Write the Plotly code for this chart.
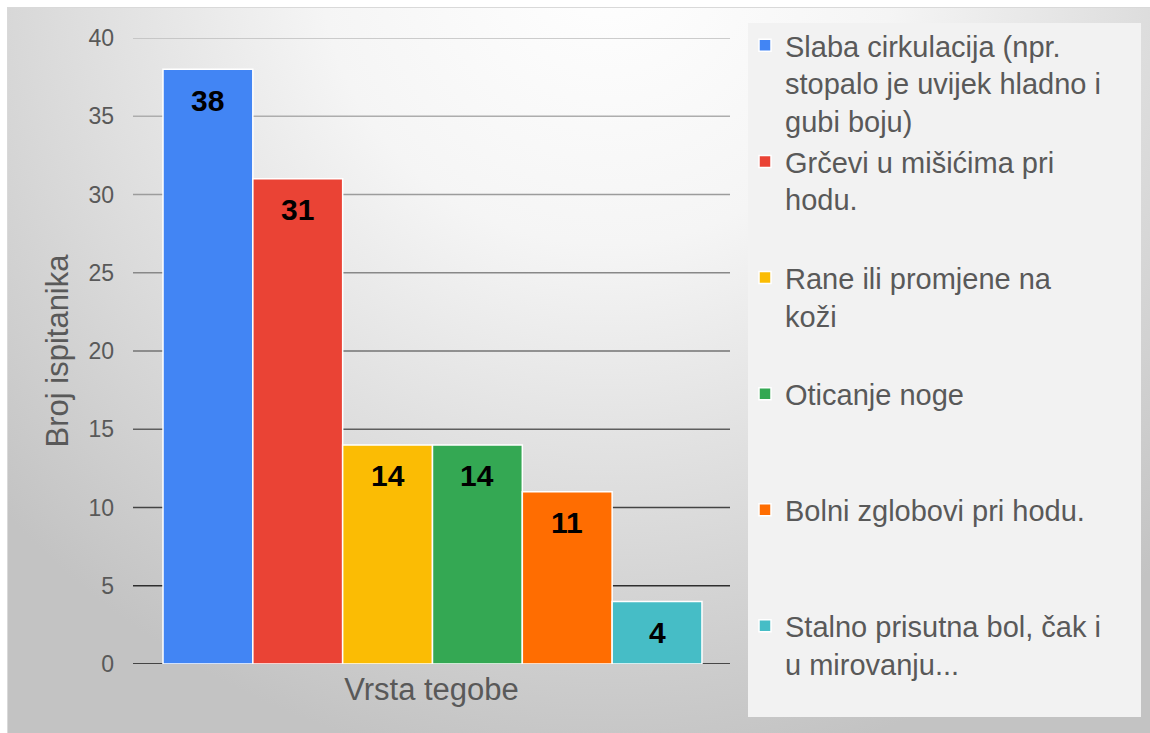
import base64
import plotly.graph_objects as go

# ---- data ----
categories = [
    "Slaba cirkulacija (npr.<br>stopalo je uvijek hladno i<br>gubi boju)",
    "Grčevi u mišićima pri<br>hodu.",
    "Rane ili promjene na<br>koži",
    "Oticanje noge",
    "Bolni zglobovi pri hodu.",
    "Stalno prisutna bol, čak i<br>u mirovanju...",
]
values = [38, 31, 14, 14, 11, 4]
y_ticks = [0, 5, 10, 15, 20, 25, 30, 35, 40]
x_title = "Vrsta tegobe"
y_title = "Broj ispitanika"

# ---- styles ----
bar_colors = ["#4285F4", "#EA4335", "#FBBC04", "#34A853", "#FF6D01", "#46BDC6"]
grid_colors = ["#1a1a1a", "#2e2e2e", "#444444", "#5e5e5e", "#737373",
               "#888888", "#9c9c9c", "#adadad", "#bdbdbd"]
FONT = "Liberation Sans, Arial, sans-serif"
TXT = "#595959"

W, H = 1150, 733
ML, MR, MT, MB = 133, 420, 38, 69
PW, PH = W - ML - MR, H - MT - MB


def px_x(p):
    return (p - ML) / PW


def px_y(p):
    return (H - MB - p) / PH


# gradient background as SVG image
gw, gh = 1143, 726
svg = f'''<svg xmlns="http://www.w3.org/2000/svg" width="{gw}" height="{gh}" viewBox="0 0 {gw} {gh}">
<defs><radialGradient id="g" gradientUnits="userSpaceOnUse" cx="600" cy="-50" r="820">
<stop offset="0" stop-color="#ffffff"/><stop offset="0.35" stop-color="#f5f5f5"/>
<stop offset="0.7" stop-color="#dadada"/><stop offset="1" stop-color="#c3c3c3"/></radialGradient></defs>
<rect x="0" y="0" width="{gw}" height="{gh}" fill="url(#g)"/>
<line x1="0" y1="0.5" x2="{gw}" y2="0.5" stroke="#d9d9d9" stroke-width="1"/>
<line x1="0.5" y1="0" x2="0.5" y2="{gh}" stroke="#d9d9d9" stroke-width="1"/>
</svg>'''
src = "data:image/svg+xml;base64," + base64.b64encode(svg.encode()).decode()

fig = go.Figure()

n_lines = 3
for i, (cat, val, col) in enumerate(zip(categories, values, bar_colors)):
    lines = cat.count("<br>") + 1
    name = cat + "<br>\u00a0" * (n_lines - lines)
    fig.add_trace(go.Bar(
        x=[i], y=[val], width=1, name=name,
        marker=dict(color=col, line=dict(color="white", width=1.5)),
        hoverinfo="y",
    ))
    fig.add_annotation(
        x=i, y=val, text=f"<b>{val}</b>", showarrow=False,
        yanchor="middle", yshift=-31,
        font=dict(family=FONT, size=30, color="black"),
    )

for t, gc in zip(y_ticks, grid_colors):
    fig.add_shape(type="line", xref="paper", x0=0, x1=1, yref="y", y0=t, y1=t,
                  line=dict(color=gc, width=1.6), layer="below")

# legend panel background
fig.add_shape(type="rect", xref="paper", yref="paper",
              x0=px_x(748), x1=px_x(1141), y0=px_y(717), y1=px_y(23),
              fillcolor="#f2f2f2", line=dict(width=0), layer="below")

fig.add_layout_image(
    source=src, xref="paper", yref="paper",
    x=px_x(7), y=px_y(7),
    sizex=gw / PW, sizey=gh / PH,
    xanchor="left", yanchor="top", sizing="stretch", layer="below",
)

fig.update_layout(
    width=W, height=H,
    margin=dict(l=ML, r=MR, t=MT, b=MB, autoexpand=False),
    paper_bgcolor="white", plot_bgcolor="rgba(0,0,0,0)",
    barmode="overlay",
    showlegend=True,
    legend=dict(
        x=px_x(745), y=px_y(20), xanchor="left", yanchor="top",
        bgcolor="rgba(0,0,0,0)", font=dict(family=FONT, size=29, color=TXT),
        valign="top", itemclick=False, itemdoubleclick=False,
        maxheight=725,
    ),
    xaxis=dict(
        range=[-0.834, 5.812], showticklabels=False, showgrid=False,
        zeroline=False, showline=False, ticks="",
        title=dict(text=x_title, font=dict(family=FONT, size=31, color=TXT), standoff=14),
    ),
    yaxis=dict(
        range=[0, 40], tickvals=y_ticks, showgrid=False, zeroline=False,
        showline=False, ticks="", ticklabelstandoff=18,
        tickfont=dict(family=FONT, size=23, color=TXT),
        title=dict(text=y_title, font=dict(family=FONT, size=31, color=TXT), standoff=10),
    ),
)

fig.write_html("out.html", config={"displayModeBar": False},
               post_script="document.body.style.margin='0';")
